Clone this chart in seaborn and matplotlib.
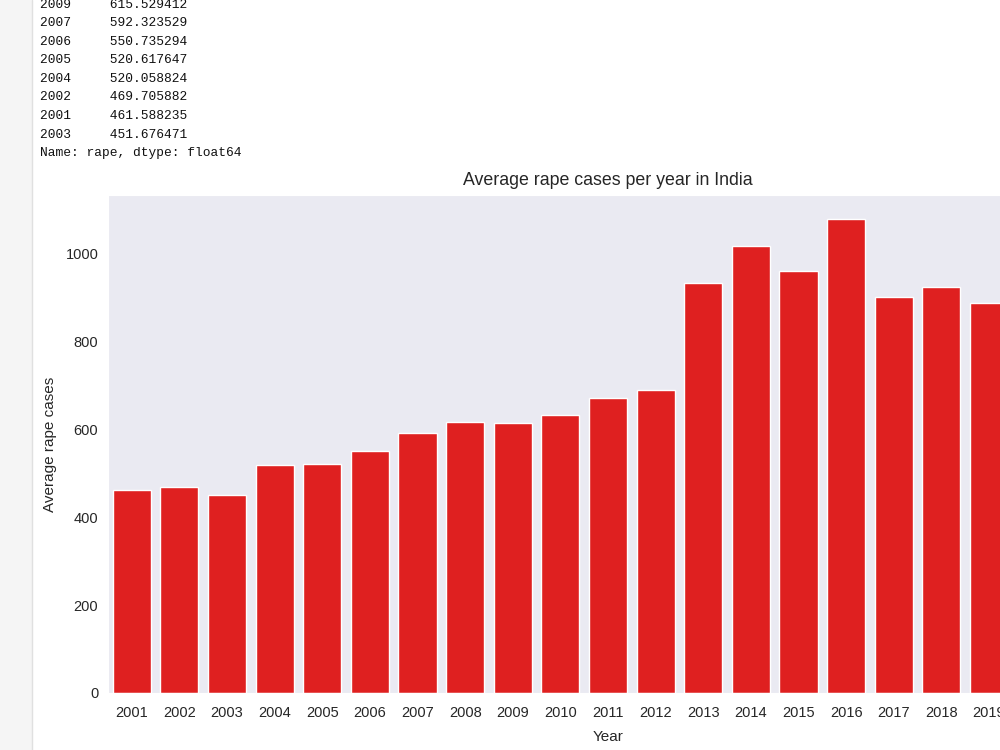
"""Average rape cases per year in India — notebook cell screenshot recreation."""

import matplotlib

matplotlib.use("Agg")

import matplotlib.pyplot as plt
import pandas as pd
import seaborn as sns
from matplotlib.lines import Line2D
from matplotlib.patches import Rectangle

# Mean rape cases per state/UT for each year (2020/2021 sit off the right edge)
years = list(range(2001, 2022))
avg_rape = [
    461.588235, 469.705882, 451.676471, 520.058824, 520.617647,
    550.735294, 592.323529, 616.5, 615.529412, 633.0,
    672.0, 690.0, 934.0, 1018.0, 961.0,
    1080.0, 902.0, 925.0, 888.0, 780.0,
    880.0,
]
n_printed = 8  # tail of the sorted series shown in the cell output

df = pd.DataFrame({"year": years, "rape": avg_rape})

W, H = 1000, 750

sns.set_style("dark")
plt.rcParams["font.family"] = ["Liberation Sans", "DejaVu Sans"]

fig = plt.figure(figsize=(W / 100, H / 100), dpi=100)
fig.patch.set_facecolor("white")

# notebook gutter on the left
fig.patches.append(
    Rectangle((0, 0), 32 / W, 1, transform=fig.transFigure,
              facecolor="#f5f5f5", edgecolor="none", zorder=0)
)
fig.lines.append(
    Line2D([32 / W, 32 / W], [0, 1], transform=fig.transFigure,
           color="#e0e0e0", lw=1)
)

# printed output of the sorted series (bottom part only)
tail = df.sort_values("rape", ascending=False).tail(n_printed)
lines = [f"{y}     {v:.6f}" for y, v in zip(tail["year"], tail["rape"])]
lines.append("Name: rape, dtype: float64")
for i, txt in enumerate(lines):
    fig.text(40 / W, 1 - (4.5 + i * 18.6) / H, txt,
             family=["Liberation Mono", "DejaVu Sans Mono"],
             fontsize=9.3, color="#111111", va="center", ha="left")

# chart axes run past the right edge of the screenshot
ax = fig.add_axes([108 / W, (H - 693) / H, 1000 / W, (693 - 195) / H])
sns.barplot(data=df, x="year", y="rape", color="red", ax=ax)
ax.set_title("Average rape cases per year in India", fontsize=12.8,
             color="#262626", pad=7)
ax.set_xlabel("Year", fontsize=11, color="#262626", labelpad=7)
ax.set_ylabel("Average rape cases", fontsize=11, color="#262626", labelpad=6)
ax.tick_params(axis="both", labelsize=10.5, colors="#262626")
ax.tick_params(axis="x", pad=6)

fig.savefig("out.png", dpi=100)
